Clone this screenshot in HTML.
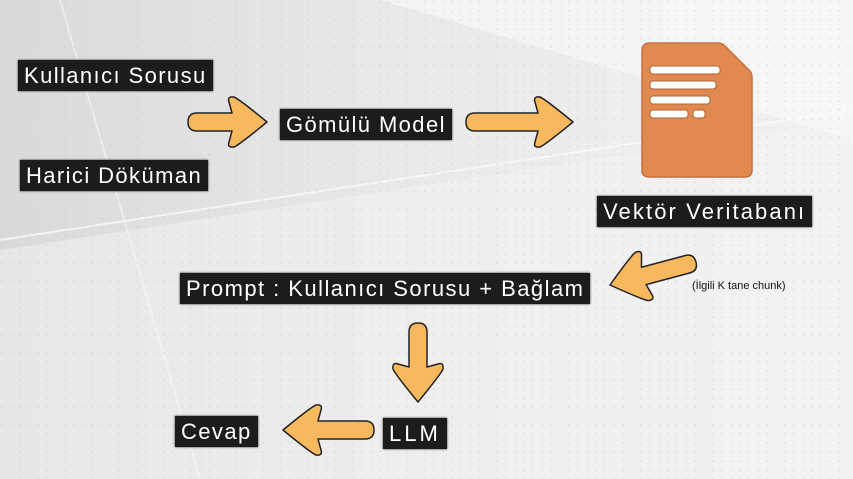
<!DOCTYPE html>
<html><head><meta charset="utf-8"><style>
body{margin:0;width:853px;height:479px;overflow:hidden;position:relative;font-family:"Liberation Sans","DejaVu Sans",sans-serif;background:#e6e6e6}
.l{position:absolute;background:#1c1c1c;color:#fff;font-size:22px;letter-spacing:1.4px;line-height:31px;padding:0 6px;white-space:nowrap;box-shadow:0 0 2px #1c1c1c}
svg{position:absolute;left:0;top:0}
</style></head><body>
<svg width="853" height="479">
<defs><linearGradient id="bg" x1="0" y1="0" x2="1" y2="0"><stop offset="0" stop-color="#dadada"/><stop offset="0.5" stop-color="#eaeaea"/><stop offset="1" stop-color="#f2f2f2"/></linearGradient>
<pattern id="dots" width="9" height="9" patternUnits="userSpaceOnUse"><circle cx="2" cy="2" r="0.8" fill="#c4c4c4"/></pattern></defs>
<rect width="853" height="479" fill="url(#bg)"/>
<polygon points="0,250 853,120 853,479 0,479" fill="#f3f3f3" opacity="0.5"/>
<polygon points="380,0 853,140 853,0" fill="#fafafa" opacity="0.6"/>
<polyline points="0,240 853,110" fill="none" stroke="#fafafa" stroke-width="2" opacity="0.8"/>
<polyline points="60,0 200,479" fill="none" stroke="#f6f6f6" stroke-width="2" opacity="0.6"/>
<rect width="853" height="479" fill="url(#dots)" opacity="0.6"/>
<g fill="#f8b85e" stroke="#222" stroke-width="1.5" stroke-linejoin="round">
<path transform="translate(267,122)" d="M-70 -9 L-35 -9 L-38 -20 Q-40 -26 -33 -25 Q-28 -23 0 0 Q-28 23 -33 25 Q-40 26 -38 20 L-35 9 L-70 9 Q-79 9 -79 0 Q-79 -9 -70 -9 Z"/>
<path transform="translate(573,122)" d="M-98 -9 L-35 -9 L-38 -20 Q-40 -26 -33 -25 Q-28 -23 0 0 Q-28 23 -33 25 Q-40 26 -38 20 L-35 9 L-98 9 Q-107 9 -107 0 Q-107 -9 -98 -9 Z"/>
<path transform="translate(610,285) rotate(-15) scale(-1,1)" d="M-80 -9 L-35 -9 L-38 -20 Q-40 -26 -33 -25 Q-28 -23 0 0 Q-28 23 -33 25 Q-40 26 -38 20 L-35 9 L-80 9 Q-89 9 -89 0 Q-89 -9 -80 -9 Z"/>
<path transform="translate(418,402) rotate(90)" d="M-70 -9 L-35 -9 L-38 -20 Q-40 -26 -33 -25 Q-28 -23 0 0 Q-28 23 -33 25 Q-40 26 -38 20 L-35 9 L-70 9 Q-79 9 -79 0 Q-79 -9 -70 -9 Z"/>
<path transform="translate(283,430) scale(-1,1)" d="M-82 -9 L-35 -9 L-38 -20 Q-40 -26 -33 -25 Q-28 -23 0 0 Q-28 23 -33 25 Q-40 26 -38 20 L-35 9 L-82 9 Q-91 9 -91 0 Q-91 -9 -82 -9 Z"/>
</g>
<path d="M650 43 L718 43 Q722 43 725 46 L749 70 Q752 73 752 77 L752 170 Q752 177 745 177 L649 177 Q642 177 642 170 L642 51 Q642 43 650 43 Z" fill="#e08a52" stroke="#c8703a" stroke-width="1.5"/>
<g fill="#fff" stroke="#b5622e" stroke-width="1">
<rect x="650" y="66" width="70" height="8" rx="3"/>
<rect x="650" y="81" width="66" height="8" rx="3"/>
<rect x="650" y="96" width="60" height="8" rx="3"/>
<rect x="650" y="110" width="38" height="8" rx="3"/>
<rect x="693" y="110" width="12" height="8" rx="3"/>
</g>
<text x="692" y="289" font-size="11" fill="#111" font-family="Liberation Sans, sans-serif">(İlgili K tane chunk)</text>
</svg>
<div class="l" style="left:18px;top:60px">Kullanıcı Sorusu</div>
<div class="l" style="left:20px;top:160px">Harici Döküman</div>
<div class="l" style="left:280px;top:109px">Gömülü Model</div>
<div class="l" style="left:597px;top:196px;letter-spacing:2.1px">Vektör Veritabanı</div>
<div class="l" style="left:180px;top:273px;letter-spacing:1.45px">Prompt : Kullanıcı Sorusu + Bağlam</div>
<div class="l" style="left:383px;top:418px;letter-spacing:3px">LLM</div>
<div class="l" style="left:175px;top:416px">Cevap</div>
</body></html>
